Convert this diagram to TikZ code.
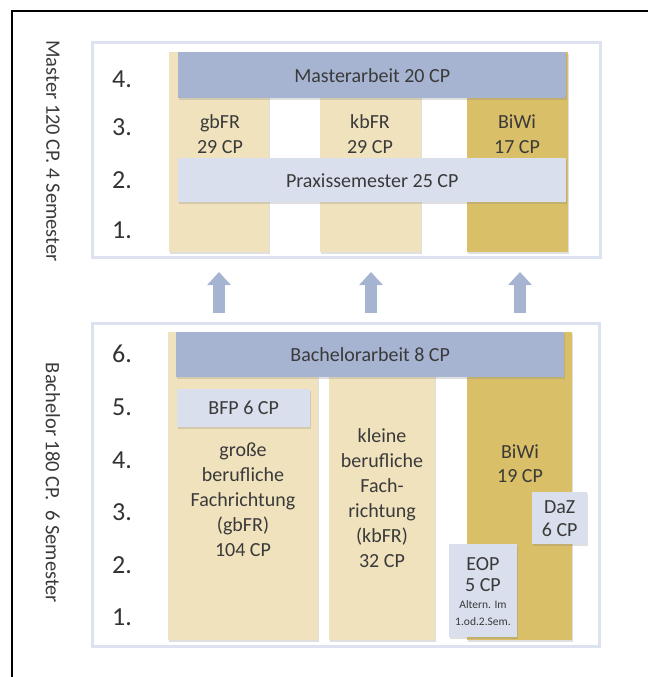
\documentclass[tikz,border=0pt]{standalone}
\usepackage{fontspec}
\setmainfont{Carlito}
\usetikzlibrary{shadows,arrows.meta}
\definecolor{boxline}{HTML}{DCE2F0}
\definecolor{fieldcol}{HTML}{EFE2BD}
\definecolor{biwicol}{HTML}{D9BF67}
\definecolor{arbeitcol}{HTML}{A6B4D2}
\definecolor{praxcol}{HTML}{D9DFEC}
\definecolor{txtcol}{HTML}{3A3A3A}
\tikzset{
  semframe/.style={draw=boxline, line width=3pt, fill=white},
  blk/.style={anchor=north west, inner sep=0pt,
    drop shadow={shadow xshift=1.2pt, shadow yshift=-1.5pt, opacity=0.25}},
  field/.style={blk, fill=fieldcol},
  biwi/.style={blk, fill=biwicol},
  arbeit/.style={blk, fill=arbeitcol},
  praxis/.style={blk, fill=praxcol},
  txt/.style={text=txtcol, align=center, font=\fontsize{20}{25}\selectfont},
  semnum/.style={text=black!80, font=\fontsize{26}{26}\selectfont},
  sidelab/.style={rotate=-90, text=txtcol, font=\fontsize{20.5}{21}\selectfont},
  uparrow/.style={draw=arbeitcol, line width=12pt, -{Triangle[width=23pt,length=13pt]}}
}
\begin{document}
\begin{tikzpicture}[x=1pt, y=-1pt]
  \useasboundingbox (0,0) rectangle (648,677);
  % Frame
  \draw[line width=2pt] (12,677) -- (12,11) -- (648,11);
  % Side labels
  \node[sidelab] (mlab) at (53,151) {Master 120 CP. 4 Semester};
  \node[sidelab] (blab) at (53,483) {Bachelor 180 CP.\ \ 6 Semester};

  % Master
  \draw[semframe] (92,43) rectangle (600,257);
  \foreach \n/\y in {4/79, 3/127, 2/180, 1/230}
    \node[semnum] (m\n) at (122,\y) {\n.};
  \node[field, minimum width=100pt, minimum height=200pt] (mgb) at (169,52) {};
  \node[field, minimum width=101pt, minimum height=200pt] (mkb) at (320,52) {};
  \node[biwi, minimum width=101pt, minimum height=200pt] (mbiwi) at (467,52) {};
  \node[arbeit, minimum width=388pt, minimum height=46pt] (marb) at (178,52) {};
  \node[txt] (marbt) at (marb.center) {Masterarbeit 20 CP};
  \node[praxis, minimum width=388pt, minimum height=44pt] (mprax) at (178,158) {};
  \node[txt] (mpraxt) at (mprax.center) {Praxissemester 25 CP};
  \node[txt] (mgbt) at (220,134) {gbFR\\29 CP};
  \node[txt] (mkbt) at (370,134) {kbFR\\29 CP};
  \node[txt] (mbiwit) at (517,134) {BiWi\\17 CP};

  % Arrows
  \foreach \i/\x in {1/219, 2/371, 3/520} {
    \coordinate (a\i b) at (\x,313);
    \coordinate (a\i t) at (\x,272);
    \draw[uparrow] (a\i b) -- (a\i t);
  }

  % Bachelor
  \draw[semframe] (92,323) rectangle (599,646);
  \foreach \n/\y in {6/354, 5/407, 4/460, 3/512, 2/565, 1/617}
    \node[semnum] (b\n) at (122,\y) {\n.};
  \node[field, minimum width=150pt, minimum height=308pt] (bgb) at (168,332) {};
  \node[field, minimum width=106pt, minimum height=308pt] (bkb) at (329,332) {};
  \node[biwi, minimum width=105pt, minimum height=308pt] (bbiwi) at (467,332) {};
  \node[arbeit, minimum width=388pt, minimum height=45pt] (barb) at (176,332) {};
  \node[txt] (barbt) at (barb.center) {Bachelorarbeit 8 CP};
  \node[praxis, minimum width=133pt, minimum height=38pt] (bfp) at (177,389) {};
  \node[txt] (bfpt) at (bfp.center) {BFP 6 CP};
  \node[txt] (bgbt) at (243,500) {große\\berufliche\\Fachrichtung\\(gbFR)\\104 CP};
  \node[txt] (bkbt) at (382,498) {kleine\\berufliche\\Fach-\\richtung\\(kbFR)\\32 CP};
  \node[txt, font=\fontsize{20}{24}\selectfont] (bbiwit) at (520,464) {BiWi\\19 CP};
  \node[praxis, minimum width=55pt, minimum height=52pt] (daz) at (532,492) {};
  \node[txt, font=\fontsize{20}{23}\selectfont] (dazt) at (daz.center) {DaZ\\6 CP};
  \node[praxis, minimum width=68pt, minimum height=93pt] (eop) at (449,544) {};
  \node[txt, font=\fontsize{20}{21}\selectfont] (eopt) at (483,575) {EOP\\5 CP};
  \node[txt, font=\fontsize{11.5}{17}\selectfont] (eopn) at (483,613) {Altern. Im\\1.od.2.Sem.};
\end{tikzpicture}
\end{document}
